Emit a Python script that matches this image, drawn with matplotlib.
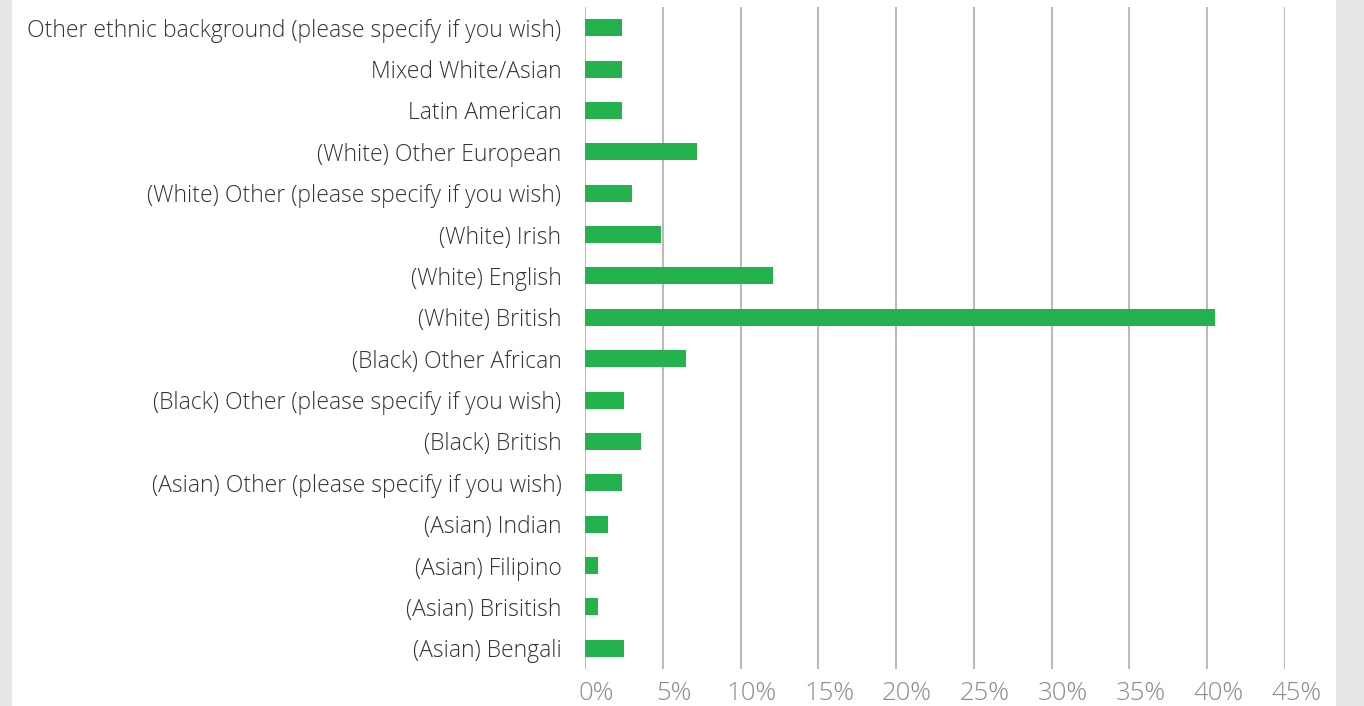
import matplotlib
matplotlib.use("Agg")
import matplotlib.pyplot as plt
from matplotlib.patches import Rectangle
from matplotlib.ticker import FuncFormatter
from matplotlib.transforms import ScaledTranslation

categories = [
    "(Asian) Bengali",
    "(Asian) Brisitish",
    "(Asian) Filipino",
    "(Asian) Indian",
    "(Asian) Other (please specify if you wish)",
    "(Black) British",
    "(Black) Other (please specify if you wish)",
    "(Black) Other African",
    "(White) British",
    "(White) English",
    "(White) Irish",
    "(White) Other (please specify if you wish)",
    "(White) Other European",
    "Latin American",
    "Mixed White/Asian",
    "Other ethnic background (please specify if you wish)",
]
values = [2.5, 0.85, 0.85, 1.5, 2.4, 3.6, 2.5, 6.5, 40.5, 12.1, 4.9, 3.0, 7.2, 2.4, 2.4, 2.4]
xticks = [0, 5, 10, 15, 20, 25, 30, 35, 40, 45]

plt.rcParams['font.family'] = ['Open Sans', 'DejaVu Sans']

W, H = 1364, 706
fig = plt.figure(figsize=(W / 100, H / 100), dpi=100)
fig.patch.set_facecolor('white')
fig.patches.append(Rectangle((0, 0), 12 / W, 1, transform=fig.transFigure,
                             facecolor='#E6E7E8', edgecolor='none', zorder=0))
fig.patches.append(Rectangle((1336 / W, 0), 1 - 1336 / W, 1, transform=fig.transFigure,
                             facecolor='#E6E7E8', edgecolor='none', zorder=0))

ax = fig.add_axes([585 / W, 1 - 669 / H, 700 / W, 662 / H])
ax.set_facecolor('none')
y = list(range(len(categories)))
ax.barh(y, values, height=0.41, color='#23B24E', zorder=3)
ax.set_xlim(0, 45)
ax.set_ylim(-0.5, len(categories) - 0.5)
ax.set_yticks(y)
ax.set_yticklabels(categories)
ax.set_xticks(xticks)
ax.xaxis.set_major_formatter(FuncFormatter(lambda v, p: f"{v:.0f}%"))
ax.grid(axis='x', color='#BBBBBB', linewidth=1.5, zorder=1)
for s in ax.spines.values():
    s.set_visible(False)
ax.tick_params(axis='y', length=0, pad=17, labelsize=16.5, labelcolor='#333333')
ax.tick_params(axis='x', length=0, pad=9, labelsize=18.5, labelcolor='#8C8C8C')
for t in ax.get_yticklabels() + ax.get_xticklabels():
    t.set_fontweight('light')
shift = ScaledTranslation(11 / 100, 0, fig.dpi_scale_trans)
for t in ax.get_xticklabels():
    t.set_transform(t.get_transform() + shift)

fig.savefig('out.png', dpi=100, facecolor=fig.get_facecolor())
